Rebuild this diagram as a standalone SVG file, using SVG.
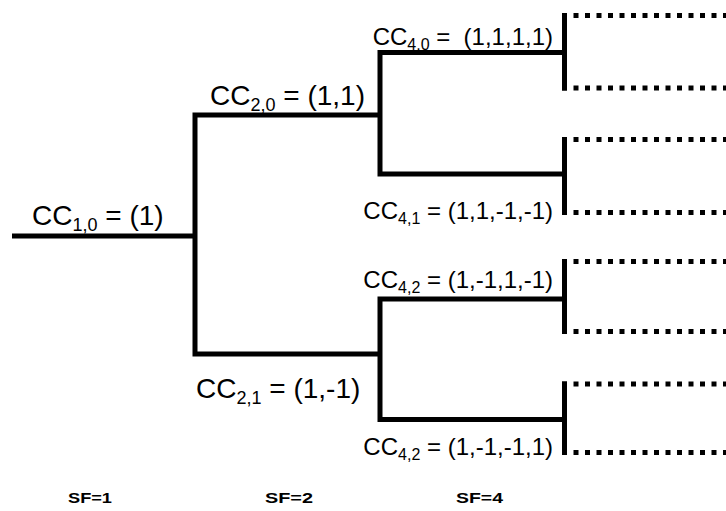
<svg xmlns="http://www.w3.org/2000/svg" width="726" height="511" viewBox="0 0 726 511">
<style>
.ln{fill:none;stroke:#000;stroke-width:5;stroke-linejoin:miter;stroke-linecap:butt}
.dot{fill:none;stroke:#000;stroke-width:5;stroke-dasharray:5 6.5}
.big{font-family:"Liberation Sans",Arial,sans-serif;font-size:28px;fill:#000}
.sm{font-family:"Liberation Sans",Arial,sans-serif;font-size:24px;fill:#000;text-anchor:end;white-space:pre}
.sb{font-size:18px}
.ss{font-size:16px}
.sf{font-family:"Liberation Sans",Arial,sans-serif;font-size:15px;font-weight:bold;fill:#000}
</style>
<rect width="726" height="511" fill="#fff"/>
<g id="connectors">
<path class="ln" d="M12,236 H195"/>
<path class="ln" d="M380,115 H195 V354 H380"/>
<path class="ln" d="M564,52.5 H380 V174 H564"/>
<path class="ln" d="M564,299 H380 V419.5 H564"/>
<path class="ln" d="M564.5,13 V90.5"/>
<path class="ln" d="M564.5,137 V215"/>
<path class="ln" d="M564.5,259 V334"/>
<path class="ln" d="M564.5,381.5 V455"/>
<path class="dot" d="M562,15.5 H726"/>
<path class="dot" d="M562,88 H726"/>
<path class="dot" d="M562,139.5 H726"/>
<path class="dot" d="M562,212.5 H726"/>
<path class="dot" d="M562,261.5 H726"/>
<path class="dot" d="M562,331.5 H726"/>
<path class="dot" d="M562,384 H726"/>
<path class="dot" d="M562,452.5 H726"/>
</g>
<g id="cc10"><text class="big" x="32" y="225">CC<tspan class="sb" dy="6">1,0</tspan><tspan dy="-6"> = (1)</tspan></text></g>
<g id="cc20"><text class="big" x="210" y="105">CC<tspan class="sb" dy="6">2,0</tspan><tspan dy="-6"> = (1,1)</tspan></text></g>
<g id="cc21"><text class="big" x="196" y="398">CC<tspan class="sb" dy="6">2,1</tspan><tspan dy="-6"> = (1,-1)</tspan></text></g>
<g id="cc40"><text class="sm" x="553" y="45">CC<tspan class="ss" dy="5">4,0</tspan><tspan dy="-5"> =  (1,1,1,1)</tspan></text></g>
<g id="cc41"><text class="sm" x="553" y="219">CC<tspan class="ss" dy="5">4,1</tspan><tspan dy="-5"> = (1,1,-1,-1)</tspan></text></g>
<g id="cc42a"><text class="sm" x="553" y="288">CC<tspan class="ss" dy="5">4,2</tspan><tspan dy="-5"> = (1,-1,1,-1)</tspan></text></g>
<g id="cc42b"><text class="sm" x="553" y="455">CC<tspan class="ss" dy="5">4,2</tspan><tspan dy="-5"> = (1,-1,-1,1)</tspan></text></g>
<g id="sf1"><text class="sf" x="68" y="503" textLength="44" lengthAdjust="spacingAndGlyphs">SF=1</text></g>
<g id="sf2"><text class="sf" x="265" y="503" textLength="48" lengthAdjust="spacingAndGlyphs">SF=2</text></g>
<g id="sf4"><text class="sf" x="456" y="503" textLength="47" lengthAdjust="spacingAndGlyphs">SF=4</text></g>
</svg>
